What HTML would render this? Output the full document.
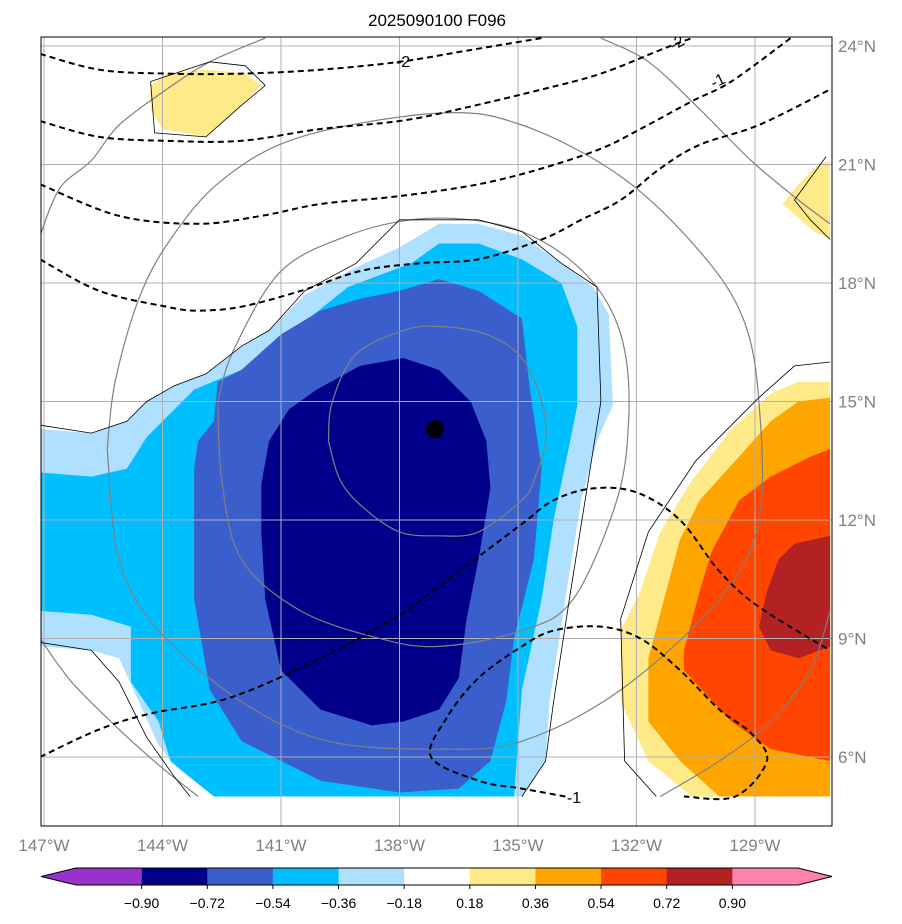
<!DOCTYPE html>
<html><head><meta charset="utf-8"><style>
body{margin:0;background:#fff;font-family:"Liberation Sans","DejaVu Sans",sans-serif}
svg{display:block}
</style></head><body>
<svg id="chart" width="902" height="924" viewBox="0 0 902 924" xmlns="http://www.w3.org/2000/svg">
<defs><clipPath id="clip"><rect x="41" y="37" width="791" height="789"/></clipPath></defs>
<rect x="0" y="0" width="902" height="924" fill="#fff"/>
<text x="437" y="26" text-anchor="middle" font-size="17" fill="#000">2025090100 F096</text>
<g id="fills" clip-path="url(#clip)"></g>
<g id="grid" clip-path="url(#clip)"></g>
<g id="lines" clip-path="url(#clip)"></g>
<rect x="41" y="37" width="791" height="789" fill="none" stroke="#000" stroke-width="1"/>
<g id="ticks"></g>
<g id="colorbar"></g>
</svg>
<script>
const NS="http://www.w3.org/2000/svg";
const lonTicks=[-147,-144,-141,-138,-135,-132,-129];
const latTicks=[24,21,18,15,12,9,6];
const cbLevels=["−0.90","−0.72","−0.54","−0.36","−0.18","0.18","0.36","0.54","0.72","0.90"];
const cbColors=["#9932cc","#00008b","#3a5fcd","#00bfff","#b0e0ff","#ffffff","#ffea8a","#ffa500","#ff4500","#b22222","#ff82ab"];
const polyLightBlue=[[-147.1,14.3],[-145.8,14.2],[-144.9,14.5],[-144.4,15.0],[-143.7,15.4],[-142.9,15.7],[-142.0,16.4],[-141.3,16.8],[-140.4,17.7],[-139.1,18.4],[-138.0,18.9],[-137.0,19.5],[-136.0,19.5],[-134.9,19.2],[-133.9,18.5],[-133.1,17.9],[-132.7,17.2],[-132.6,14.9],[-133.0,14.0],[-133.4,12.5],[-133.8,10.0],[-134.2,7.4],[-134.3,5.9],[-134.9,5.0],[-142.7,5.0],[-143.6,5.7],[-144.1,6.3],[-144.6,7.4],[-145.1,8.5],[-145.8,8.7],[-147.1,8.8]];
const polyCyan=[[-147.1,13.2],[-145.8,13.1],[-144.9,13.3],[-144.4,14.1],[-143.7,14.8],[-143.2,15.3],[-142.0,15.8],[-141.2,16.3],[-140.3,17.1],[-139.3,17.9],[-137.7,18.5],[-137.0,19.0],[-136.0,19.0],[-134.9,18.6],[-133.9,18.0],[-133.5,16.9],[-133.5,14.9],[-133.7,13.9],[-134.1,12.0],[-134.4,10.0],[-134.9,7.7],[-135.1,5.0],[-142.7,5.0],[-143.8,5.9],[-144.1,6.9],[-144.8,7.9],[-144.8,9.3],[-145.8,9.6],[-147.1,9.7]];
const polyRoyal=[[-143.2,13.3],[-143.1,14.0],[-142.7,14.5],[-142.6,15.5],[-142.0,15.8],[-141.0,16.7],[-140.0,17.3],[-139.0,17.6],[-138.0,17.8],[-137.0,18.1],[-136.0,17.8],[-134.9,17.1],[-134.7,15.3],[-134.4,13.3],[-134.6,11.0],[-135.1,9.0],[-135.3,7.4],[-135.7,5.9],[-136.5,5.2],[-138.0,5.1],[-140.0,5.4],[-142.0,6.4],[-142.8,7.7],[-143.2,10.0]];
const polyNavy=[[-141.5,12.9],[-141.3,14.0],[-140.8,14.8],[-140.1,15.3],[-139.0,15.9],[-137.9,16.1],[-137.0,15.8],[-136.2,15.0],[-135.8,14.0],[-135.7,12.8],[-136.0,11.0],[-136.3,9.5],[-136.5,8.0],[-137.0,7.2],[-137.9,6.9],[-138.7,6.8],[-140.0,7.2],[-141.0,8.2],[-141.4,10.0],[-141.5,11.7]];
const polyYellowR=[[-132.4,9.2],[-131.9,10.2],[-131.4,11.7],[-130.6,13.0],[-129.6,14.3],[-128.6,15.2],[-127.9,15.5],[-127.1,15.5],[-127.1,5.0],[-130.6,5.0],[-131.7,5.9],[-132.4,7.4]];
const polyOrange=[[-131.7,8.5],[-131.3,10.0],[-130.9,11.5],[-130.4,12.5],[-129.5,13.5],[-128.6,14.5],[-127.9,15.0],[-127.1,15.1],[-127.1,5.0],[-129.9,5.0],[-130.9,5.9],[-131.7,6.9]];
const polyOrangeRed=[[-130.8,8.7],[-130.4,10.2],[-130.1,11.2],[-129.4,12.5],[-128.6,13.1],[-127.6,13.6],[-127.1,13.8],[-127.1,5.9],[-128.6,6.2],[-129.6,6.9],[-130.8,8.2]];
const polyDarkRed=[[-128.9,9.3],[-128.7,10.2],[-128.4,11.0],[-128.0,11.4],[-127.1,11.6],[-127.1,8.8],[-127.9,8.5],[-128.6,8.7]];
const polyYellowTop=[[-144.3,23.0],[-143.9,23.3],[-142.9,23.4],[-141.9,23.3],[-141.5,23.0],[-142.0,22.5],[-142.9,21.7],[-144.0,21.9],[-144.3,22.4]];
const polyYellowTR=[[-128.3,20.0],[-127.9,20.5],[-127.4,21.0],[-127.1,21.1],[-127.1,19.1],[-127.5,19.3]];
const dash1=[[-147.1,23.8],[-145.6,23.4],[-143.9,23.3],[-142.0,23.3],[-140.0,23.4],[-138.0,23.6],[-136.2,23.9],[-134.4,24.2]];
const dash2=[[-147.1,22.1],[-145.6,21.7],[-143.9,21.6],[-142.0,21.6],[-140.0,21.9],[-138.0,22.1],[-136.5,22.4],[-134.4,22.9],[-132.9,23.3],[-131.4,23.9],[-130.6,24.2]];
const dash3=[[-147.1,20.5],[-145.1,19.7],[-143.1,19.5],[-141.5,19.7],[-140.0,20.0],[-138.0,20.2],[-136.0,20.5],[-134.4,20.9],[-132.9,21.4],[-131.9,21.9],[-130.6,22.6],[-129.6,23.1],[-128.1,24.2]];
const dash4=[[-147.1,18.6],[-145.6,17.8],[-143.9,17.4],[-143.1,17.3],[-142.0,17.4],[-140.5,17.8],[-139.0,18.3],[-137.5,18.5],[-136.0,18.6],[-134.4,19.1],[-133.4,19.6],[-132.4,20.1],[-131.4,20.9],[-130.4,21.5],[-128.9,22.0],[-127.1,22.9]];
const dash5=[[-147.1,6.0],[-145.6,6.7],[-144.3,7.1],[-142.3,7.5],[-140.0,8.5],[-138.0,9.6],[-136.5,10.7],[-134.9,11.9],[-134.1,12.5],[-133.1,12.8],[-132.0,12.7],[-130.9,12.0],[-129.9,10.7],[-128.9,9.8],[-127.1,8.7]];
const dash6=[[-133.8,5.0],[-134.9,5.2],[-136.0,5.4],[-137.2,6.0],[-136.8,7.0],[-136.0,8.0],[-134.9,8.8],[-134.1,9.2],[-132.9,9.3],[-131.9,9.0],[-130.9,8.2],[-129.9,7.2],[-129.1,6.6],[-128.7,5.9],[-129.5,5.0],[-130.8,5.0]];
const gray1=[[-139.8,14.0],[-139.7,15.0],[-139.1,16.2],[-137.9,16.8],[-137.0,16.9],[-135.8,16.7],[-134.9,16.1],[-134.4,15.0],[-134.3,14.0],[-134.6,13.0],[-134.9,12.5],[-136.0,11.7],[-137.0,11.6],[-138.0,11.7],[-138.9,12.3],[-139.5,13.0],[-139.8,14.0]];
const gray2=[[-142.6,15.0],[-142.2,16.3],[-141.0,18.3],[-139.3,19.2],[-137.7,19.6],[-136.2,19.6],[-134.9,19.3],[-133.7,18.6],[-132.8,17.6],[-132.3,16.3],[-132.2,14.5],[-132.5,12.5],[-133.6,10.0],[-134.9,9.2],[-137.0,8.8],[-138.5,9.0],[-140.5,9.7],[-142.0,11.0],[-142.5,13.0],[-142.6,15.0]];
const gray3=[[-145.4,13.8],[-145.2,15.5],[-144.6,17.6],[-143.8,19.1],[-142.5,20.6],[-140.5,21.7],[-137.0,22.3],[-134.9,22.0],[-132.4,20.7],[-130.4,18.8],[-129.3,17.1],[-128.9,15.0],[-128.9,12.0],[-129.9,10.0],[-132.4,7.7],[-134.9,6.4],[-137.0,6.2],[-139.8,6.4],[-142.0,7.4],[-144.1,9.2],[-145.1,11.0],[-145.4,13.8]];
const gray4a=[[-147.1,19.2],[-146.6,20.4],[-145.8,21.1],[-145.1,22.0],[-143.9,22.9],[-142.8,23.6],[-141.4,24.2]];
const gray4b=[[-132.9,24.2],[-131.7,23.6],[-130.4,22.4],[-129.1,21.1],[-127.9,20.1],[-127.1,19.5]];
const gray4c=[[-131.4,5.0],[-129.9,5.9],[-128.6,6.9],[-127.6,8.2],[-127.1,9.7]];
const gray4d=[[-147.1,9.0],[-146.3,7.9],[-145.1,6.7],[-144.1,5.8],[-143.1,5.0]];
const black1=[[-147.1,14.4],[-145.8,14.2],[-144.9,14.5],[-144.4,15.0],[-143.7,15.4],[-142.9,15.7],[-142.0,16.4],[-141.3,16.8],[-140.4,17.8],[-139.1,18.5],[-138.0,19.6],[-136.0,19.6],[-134.9,19.3],[-133.9,18.5],[-133.0,17.9],[-132.9,15.0],[-133.3,12.5],[-133.7,10.0],[-134.1,7.4],[-134.3,5.9],[-134.9,5.0]];
const black2=[[-147.1,8.9],[-145.8,8.7],[-145.1,7.9],[-144.4,6.5],[-143.7,5.5],[-143.3,5.0]];
const black3=[[-144.3,23.1],[-142.8,23.6],[-141.9,23.5],[-141.4,23.0],[-142.0,22.5],[-142.9,21.7],[-144.2,21.8],[-144.3,23.1]];
const black4=[[-131.5,5.0],[-132.3,5.9],[-132.4,9.5],[-131.7,11.7],[-130.5,13.5],[-128.9,15.1],[-128.0,15.9],[-127.1,16.0]];
const black5=[[-127.2,21.2],[-128.0,20.1],[-127.6,19.6],[-127.1,19.1]];
const centerPoint=[-137.1,14.3];

const X=lon=>44+(lon+147)*39.5;
const Y=lat=>46+(24-lat)*39.5;
const pts=a=>a.map(p=>X(p[0]).toFixed(1)+","+Y(p[1]).toFixed(1)).join(" ");
function smooth(a){const p=a.map(q=>[X(q[0]),Y(q[1])]);let d="M"+p[0][0].toFixed(1)+","+p[0][1].toFixed(1);
for(let i=0;i<p.length-1;i++){const p0=p[Math.max(i-1,0)],p1=p[i],p2=p[i+1],p3=p[Math.min(i+2,p.length-1)];
const c1=[p1[0]+(p2[0]-p0[0])/6,p1[1]+(p2[1]-p0[1])/6],c2=[p2[0]-(p3[0]-p1[0])/6,p2[1]-(p3[1]-p1[1])/6];
d+=` C${c1[0].toFixed(1)},${c1[1].toFixed(1)} ${c2[0].toFixed(1)},${c2[1].toFixed(1)} ${p2[0].toFixed(1)},${p2[1].toFixed(1)}`;}return d;}
function mk(tag,attrs,parent){const e=document.createElementNS(NS,tag);for(const k in attrs)e.setAttribute(k,attrs[k]);parent.appendChild(e);return e;}
const fills=document.getElementById("fills"),grid=document.getElementById("grid"),lines=document.getElementById("lines"),ticks=document.getElementById("ticks"),cb=document.getElementById("colorbar");
function fill(a,c,name){const e=mk("polygon",{points:pts(a),fill:c},fills);

}
fill(polyLightBlue,"#b0e0ff","fill-lightblue");
fill(polyCyan,"#00bfff","fill-cyan");
fill(polyRoyal,"#3a5fcd","fill-royalblue");
fill(polyNavy,"#00008b","fill-navy");
fill(polyYellowR,"#ffea8a","fill-yellow-east");
fill(polyOrange,"#ffa500","fill-orange");
fill(polyOrangeRed,"#ff4500","fill-orangered");
fill(polyDarkRed,"#b22222","fill-darkred");
fill(polyYellowTop,"#ffea8a","fill-yellow-north");
fill(polyYellowTR,"#ffea8a","fill-yellow-northeast");
lonTicks.forEach(l=>{const e=mk("line",{x1:X(l),x2:X(l),y1:37,y2:826,stroke:"#b0b0b0","stroke-width":1},grid);

});
latTicks.forEach(l=>{const e=mk("line",{x1:41,x2:832,y1:Y(l),y2:Y(l),stroke:"#b0b0b0","stroke-width":1},grid);

});
function line(a,stroke,w,dash,name,sm){const e=sm?mk("path",{d:smooth(a),fill:"none",stroke:stroke,"stroke-width":w},lines):mk("polyline",{points:pts(a),fill:"none",stroke:stroke,"stroke-width":w},lines);if(dash)e.setAttribute("stroke-dasharray",dash);

}
[gray1,gray2,gray3,gray4a,gray4b,gray4c,gray4d].forEach(a=>line(a,"#808080",1.2,null,"gray-contour",true));
[black1,black2,black3,black4,black5].forEach(a=>line(a,"#000",0.8,null,"black-contour",false));
[dash1,dash2,dash3,dash4,dash5,dash6].forEach(a=>line(a,"#000",2,"6,4","dashed-contour",true));
const dot=mk("circle",{cx:X(centerPoint[0]),cy:Y(centerPoint[1]),r:9,fill:"#000"},lines);


[["-2",403,67,0],["-2",677,48,-30],["-1",718,86,-25],["-1",574,803,0]].forEach(t=>{
const e=mk("text",{x:t[1],y:t[2],"text-anchor":"middle","font-size":16,fill:"#000",transform:`rotate(${t[3]} ${t[1]} ${t[2]-5})`},lines);e.textContent=t[0];

});
lonTicks.forEach(l=>{const e=mk("text",{x:X(l),y:851,"text-anchor":"middle","font-size":17,fill:"#808080"},ticks);e.textContent=Math.abs(l)+"°W";

});
latTicks.forEach(l=>{const e=mk("text",{x:838,y:Y(l)+6,"font-size":17,fill:"#808080"},ticks);e.textContent=l+"°N";

});
const cbL=76,cbR=798,cbT=868,cbB=885,cw=(cbR-cbL)/11;
const lt=mk("polygon",{points:`41,876.5 ${cbL},${cbT} ${cbL+cw},${cbT} ${cbL+cw},${cbB} ${cbL},${cbB}`,fill:cbColors[0]},cb);


for(let i=1;i<10;i++){const e=mk("rect",{x:cbL+i*cw,y:cbT,width:cw+0.5,height:cbB-cbT,fill:cbColors[i]},cb);

}
const rt=mk("polygon",{points:`${cbL+10*cw},${cbT} ${cbR},${cbT} 832,876.5 ${cbR},${cbB} ${cbL+10*cw},${cbB}`,fill:cbColors[10]},cb);


mk("polygon",{points:`41,876.5 ${cbL},${cbT} ${cbR},${cbT} 832,876.5 ${cbR},${cbB} ${cbL},${cbB}`,fill:"none",stroke:"#000","stroke-width":1},cb);
cbLevels.forEach((s,i)=>{const x=cbL+(i+1)*cw;
mk("line",{x1:x,x2:x,y1:cbB,y2:cbB+4,stroke:"#000"},cb);
const e=mk("text",{x:x,y:908,"text-anchor":"middle","font-size":14,fill:"#000"},cb);e.textContent=s;

});
</script>
</body></html>
